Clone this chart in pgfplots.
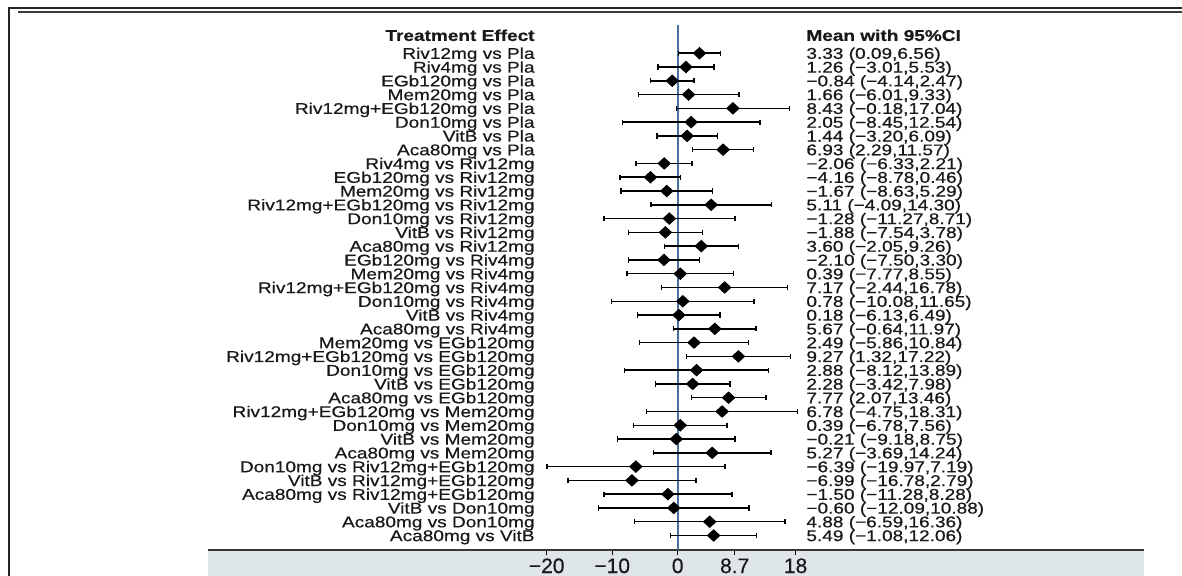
\documentclass[border=0pt]{standalone}
\usepackage{fontspec}
\setmainfont{Liberation Sans}
\newfontfamily\lblfont[FakeStretch=1.22,FakeBold=0.6]{Liberation Sans}
\newfontfamily\tckfont[FakeStretch=1.0,FakeBold=0.4]{Liberation Sans}
\usepackage{pgfplots}
\usepackage{pgfplotstable}
\pgfplotsset{compat=1.18}
\definecolor{band}{RGB}{222,230,233}
\definecolor{zline}{RGB}{75,110,160}
\definecolor{frameA}{RGB}{35,35,35}
\definecolor{frameB}{RGB}{60,60,60}
\definecolor{axline}{RGB}{55,55,55}
\definecolor{txt}{RGB}{25,25,25}

\pgfplotstableread[col sep=semicolon,row sep=\\]{
idx;mean;lo;hi;label;ci\\
1;3.33;0.09;6.56;Riv12mg vs Pla;3.33 (0.09,6.56)\\
2;1.26;-3.01;5.53;Riv4mg vs Pla;1.26 (−3.01,5.53)\\
3;-0.84;-4.14;2.47;EGb120mg vs Pla;−0.84 (−4.14,2.47)\\
4;1.66;-6.01;9.33;Mem20mg vs Pla;1.66 (−6.01,9.33)\\
5;8.43;-0.18;17.04;Riv12mg+EGb120mg vs Pla;8.43 (−0.18,17.04)\\
6;2.05;-8.45;12.54;Don10mg vs Pla;2.05 (−8.45,12.54)\\
7;1.44;-3.20;6.09;VitB vs Pla;1.44 (−3.20,6.09)\\
8;6.93;2.29;11.57;Aca80mg vs Pla;6.93 (2.29,11.57)\\
9;-2.06;-6.33;2.21;Riv4mg vs Riv12mg;−2.06 (−6.33,2.21)\\
10;-4.16;-8.78;0.46;EGb120mg vs Riv12mg;−4.16 (−8.78,0.46)\\
11;-1.67;-8.63;5.29;Mem20mg vs Riv12mg;−1.67 (−8.63,5.29)\\
12;5.11;-4.09;14.30;Riv12mg+EGb120mg vs Riv12mg;5.11 (−4.09,14.30)\\
13;-1.28;-11.27;8.71;Don10mg vs Riv12mg;−1.28 (−11.27,8.71)\\
14;-1.88;-7.54;3.78;VitB vs Riv12mg;−1.88 (−7.54,3.78)\\
15;3.60;-2.05;9.26;Aca80mg vs Riv12mg;3.60 (−2.05,9.26)\\
16;-2.10;-7.50;3.30;EGb120mg vs Riv4mg;−2.10 (−7.50,3.30)\\
17;0.39;-7.77;8.55;Mem20mg vs Riv4mg;0.39 (−7.77,8.55)\\
18;7.17;-2.44;16.78;Riv12mg+EGb120mg vs Riv4mg;7.17 (−2.44,16.78)\\
19;0.78;-10.08;11.65;Don10mg vs Riv4mg;0.78 (−10.08,11.65)\\
20;0.18;-6.13;6.49;VitB vs Riv4mg;0.18 (−6.13,6.49)\\
21;5.67;-0.64;11.97;Aca80mg vs Riv4mg;5.67 (−0.64,11.97)\\
22;2.49;-5.86;10.84;Mem20mg vs EGb120mg;2.49 (−5.86,10.84)\\
23;9.27;1.32;17.22;Riv12mg+EGb120mg vs EGb120mg;9.27 (1.32,17.22)\\
24;2.88;-8.12;13.89;Don10mg vs EGb120mg;2.88 (−8.12,13.89)\\
25;2.28;-3.42;7.98;VitB vs EGb120mg;2.28 (−3.42,7.98)\\
26;7.77;2.07;13.46;Aca80mg vs EGb120mg;7.77 (2.07,13.46)\\
27;6.78;-4.75;18.31;Riv12mg+EGb120mg vs Mem20mg;6.78 (−4.75,18.31)\\
28;0.39;-6.78;7.56;Don10mg vs Mem20mg;0.39 (−6.78,7.56)\\
29;-0.21;-9.18;8.75;VitB vs Mem20mg;−0.21 (−9.18,8.75)\\
30;5.27;-3.69;14.24;Aca80mg vs Mem20mg;5.27 (−3.69,14.24)\\
31;-6.39;-19.97;7.19;Don10mg vs Riv12mg+EGb120mg;−6.39 (−19.97,7.19)\\
32;-6.99;-16.78;2.79;VitB vs Riv12mg+EGb120mg;−6.99 (−16.78,2.79)\\
33;-1.50;-11.28;8.28;Aca80mg vs Riv12mg+EGb120mg;−1.50 (−11.28,8.28)\\
34;-0.60;-12.09;10.88;VitB vs Don10mg;−0.60 (−12.09,10.88)\\
35;4.88;-6.59;16.36;Aca80mg vs Don10mg;4.88 (−6.59,16.36)\\
36;5.49;-1.08;12.06;Aca80mg vs VitB;5.49 (−1.08,12.06)\\
}\data

\newcommand{\lblsize}{\lblfont\fontsize{7.8pt}{7.8pt}\selectfont}

\begin{document}
\begin{tikzpicture}
\path[use as bounding box] (0,0) rectangle (591pt,288pt);
\fill[band] (104pt,0) rectangle (572pt,13pt);
\draw[frameA, line width=1pt] (4.25pt,0) -- (4.25pt,283.75pt) -- (591pt,283.75pt);
\draw[frameB, line width=1pt] (9pt,282pt) -- (591pt,282pt);
\begin{axis}[
  at={(104pt,13pt)}, anchor=south west,
  scale only axis, width=468pt, height=262.5pt,
  xmin=-71.71, xmax=71.19, ymin=-37.05, ymax=1.05,
  axis x line*=bottom, axis y line=none,
  x axis line style={axline, line width=1pt, -},
  xtick={-20,-10,0,8.7,18}, xticklabels={−20,−10,0,8.7,18},
  tick align=outside, major tick length=2.5pt,
  xtick style={black, line width=0.6pt},
  xticklabel style={font=\tckfont\fontsize{10.5pt}{10.5pt}\selectfont, inner sep=0pt, anchor=north, yshift=-1.5pt, text=txt},
  ytick=\empty,
  clip=false,
]
\addplot[zline, line width=0.8pt, forget plot] coordinates {(0,-37.05) (0,1.05)};
\addplot[only marks, mark=diamond*, mark size=2.8pt,
  mark options={xscale=1.45, fill=black, draw=black, line width=0.5pt},
  error bars/.cd, x dir=both, x explicit,
  error mark=|,
  error bar style={line width=0.75pt, black},
  error mark options={mark size=1.3pt, line width=0.75pt, black}]
  table[x=mean, y expr=-\thisrow{idx},
        x error plus expr=\thisrow{hi}-\thisrow{mean},
        x error minus expr=\thisrow{mean}-\thisrow{lo}] {\data};
\addplot[draw=none, mark=none, nodes near coords, point meta=explicit symbolic,
  every node near coord/.append style={anchor=base east, inner sep=0pt, yshift=-2.8pt, font=\lblsize, text=txt}]
  table[x expr=-21.79, y expr=-\thisrow{idx}, meta=label] {\data};
\addplot[draw=none, mark=none, nodes near coords, point meta=explicit symbolic,
  every node near coord/.append style={anchor=base west, inner sep=0pt, yshift=-2.8pt, font=\lblsize, text=txt}]
  table[x expr=19.59, y expr=-\thisrow{idx}, meta=ci] {\data};
\node[anchor=base east, inner sep=0pt, yshift=-2.8pt, font=\lblsize\bfseries, text=txt] at (axis cs:-21.79,0.3) {Treatment Effect};
\node[anchor=base west, inner sep=0pt, yshift=-2.8pt, font=\lblsize\bfseries, text=txt] at (axis cs:19.59,0.3) {Mean with 95\%CI};
\end{axis}
\end{tikzpicture}
\end{document}
